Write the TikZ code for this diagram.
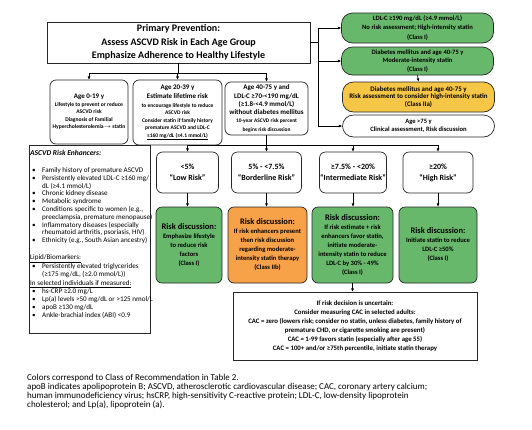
\documentclass[tikz,border=0pt]{standalone}
\usepackage{fontspec}
\setmainfont{Carlito}
\usetikzlibrary{arrows.meta,positioning}
\definecolor{corI}{RGB}{104,184,108}
\definecolor{corIIa}{RGB}{246,198,70}
\definecolor{corIIb}{RGB}{247,161,72}
\newcommand{\fs}[2]{\fontsize{#1}{#2}\selectfont}

\begin{document}
\begin{tikzpicture}[x=1pt,y=-1pt,>={Latex[length=3.2pt,width=3pt]},
 font=\bfseries\fs{6.6}{9},
 box/.style={draw=black!85,line width=0.7pt,align=center,inner sep=0pt},
 agebox/.style={box,rounded corners=6pt},
 riskbox/.style={box,rounded corners=6pt,minimum height=41pt,font=\bfseries\fs{8}{11}},
 actbox/.style={box,rounded corners=6pt,minimum height=76pt,fill=corI},
 pill/.style={box,rounded corners=11pt,minimum width=152pt},
 flow/.style={->,line width=0.7pt,black}]
\useasboundingbox[fill=white] (0,0) rectangle (532,429);
% top of the chart
\node[box,minimum width=263pt,minimum height=41pt,font=\bfseries\fs{10}{13.5}] (prim) at (178.5,42.5)
  {Primary Prevention:\\Assess ASCVD Risk in Each Age Group\\Emphasize Adherence to Healthy Lifestyle};
\node[agebox,minimum width=78pt,minimum height=64pt,font=\bfseries\fs{5.6}{7.5}] (age0) at (89,112)
  {{\fs{7}{7.5}Age 0-19 y}\\Lifestyle to prevent or reduce\\ASCVD risk\\Diagnosis of Familial\\Hypercholesterolemia$\rightarrow$ statin};
\node[agebox,minimum width=89pt,minimum height=65pt,font=\bfseries\fs{5.5}{7.5}] (age20) at (177.5,112.5)
  {{\fs{7}{7.5}Age 20-39 y}\\[2pt]{\fs{7}{7.5}Estimate lifetime risk}\\[1pt]to encourage lifestyle to reduce\\ASCVD risk\\Consider statin if family history\\premature ASCVD and LDL-C\\\underline{≥160 mg/dL (≥4.1 mmol/L)}};
\node[agebox,minimum width=83pt,minimum height=53pt,font=\bfseries\fs{7}{8.3}] (age40) at (266.5,108.5)
  {Age 40-75 y and\\LDL-C ≥70-<190 mg/dL\\(≥1.8-<4.9 mmol/L)\\without diabetes mellitus\\{\fs{5.4}{8}10-year ASCVD risk percent}\\{\fs{5.4}{8}begins risk discussion}};
% right column
\node[pill,fill=corI,minimum height=30pt,font=\bfseries\fs{6.6}{9.5}] (ldl) at (417.5,28)
  {LDL-C ≥190 mg/dL (≥4.9 mmol/L)\\No risk assessment; High-intensity statin\\(Class I)};
\node[pill,fill=corI,minimum height=28pt,font=\bfseries\fs{6.6}{8.5}] (dm) at (417.5,61)
  {Diabetes mellitus and age 40-75 y\\Moderate-intensity statin\\(Class I)};
\node[pill,fill=corIIa,minimum height=30pt,font=\bfseries\fs{6.9}{7.8}] (yel) at (418.5,97)
  {Diabetes mellitus and age 40-75 y\\Risk assessment to consider high-intensity statin\\(Class IIa)};
\node[pill,minimum height=22pt,font=\bfseries\fs{6.6}{8}] (old) at (418.5,126)
  {Age >75 y\\Clinical assessment, Risk discussion};
% risk groups
\node[riskbox,minimum width=62pt] (low) at (187.5,172.5) {<5\%\\“Low Risk”};
\node[riskbox,minimum width=70pt] (border) at (266.5,172.5) {5\% - <7.5\%\\“Borderline Risk”};
\node[riskbox,minimum width=67pt] (inter) at (353,172.5) {≥7.5\% - <20\%\\“Intermediate Risk”};
\node[riskbox,minimum width=70pt] (high) at (438,172.5) {≥20\%\\“High Risk”};
\node[actbox,minimum width=66pt] (actlow) at (189,245)
  {{\fs{8.5}{9}Risk discussion:}\\Emphasize lifestyle\\to reduce risk\\factors\\(Class I)};
\node[actbox,minimum width=79pt,fill=corIIb] (actborder) at (267.5,245)
  {{\fs{8.5}{9}Risk discussion:}\\If risk enhancers present\\then risk discussion\\regarding moderate-\\intensity statin therapy\\(Class IIb)};
\node[actbox,minimum width=81pt] (actinter) at (352.5,245)
  {{\fs{8.5}{9}Risk discussion:}\\If risk estimate + risk\\enhancers favor statin,\\initiate moderate-\\intensity statin to reduce\\LDL-C by 30\% - 49\%\\(Class I)};
\node[actbox,minimum width=78pt] (acthigh) at (438,245)
  {{\fs{8.5}{9}Risk discussion:}\\Initiate statin to reduce\\LDL-C ≥50\%\\(Class I)};
\node[box,minimum width=244pt,minimum height=68pt,font=\bfseries\fs{6.8}{9}] (cac) at (355,326)
  {If risk decision is uncertain:\\Consider measuring CAC in selected adults:\\CAC = zero (lowers risk; consider no statin, unless diabetes, family history of\\premature CHD, or cigarette smoking are present)\\CAC = 1-99 favors statin (especially after age 55)\\CAC = 100+ and/or ≥75th percentile, initiate statin therapy};
% enhancers
\node[draw=black!85,line width=0.6pt,minimum width=121pt,minimum height=188pt,anchor=north west] (enh) at (29,145) {};
\node[anchor=north west,inner sep=0pt,font=\fs{7.1}{7.8},align=left] (enhtxt) at (30,150)
  {\begin{tabular}{@{}p{12pt}@{}l@{}}
  \multicolumn{2}{@{}l@{}}{\bfseries\itshape\fs{7.5}{7.8}ASCVD Risk Enhancers:}\\[9pt]
  \hspace{2pt}\textbullet & Family history of premature ASCVD\\
  \hspace{2pt}\textbullet & Persistently elevated LDL-C ≥160 mg/\\
  & dL (≥4.1 mmol/L)\\
  \hspace{2pt}\textbullet & Chronic kidney disease\\
  \hspace{2pt}\textbullet & Metabolic syndrome\\
  \hspace{2pt}\textbullet & Conditions specific to women (e.g.,\\
  & preeclampsia, premature menopause)\\
  \hspace{2pt}\textbullet & Inflammatory diseases (especially\\
  & rheumatoid arthritis, psoriasis, HIV)\\
  \hspace{2pt}\textbullet & Ethnicity (e.g., South Asian ancestry)\\[9pt]
  \multicolumn{2}{@{}l@{}}{\underline{Lipid/Biomarkers:}}\\[1pt]
  \hspace{2pt}\textbullet & Persistently elevated triglycerides\\
  & (≥175 mg/dL, (≥2.0 mmol/L))\\[2pt]
  \multicolumn{2}{@{}l@{}}{\underline{In selected individuals if measured:}}\\
  \hspace{2pt}\textbullet & hs-CRP ≥2.0 mg/L\\
  \hspace{2pt}\textbullet & Lp(a) levels >50 mg/dL or >125 nmol/L\\
  \hspace{2pt}\textbullet & apoB ≥130 mg/dL\\
  \hspace{2pt}\textbullet & Ankle-brachial index (ABI) <0.9
  \end{tabular}};
% caption
\node[anchor=north west,inner sep=0pt,align=left,font=\mdseries\fs{9}{9}] (capt) at (27,374)
  {Colors correspond to Class of Recommendation in Table 2.\\
  apoB indicates apolipoprotein B; ASCVD, atherosclerotic cardiovascular disease; CAC, coronary artery calcium;\\
  human immunodeficiency virus; hsCRP, high-sensitivity C-reactive protein; LDL-C, low-density lipoprotein\\
  cholesterol; and Lp(a), lipoprotein (a).};
% connectors
\coordinate (agebus) at (0,73);
\coordinate (rbus) at (318,0);
\coordinate (riskbus) at (0,145);
\foreach \b in {age0,age20,age40}
  \draw[flow] (prim.south) -- (prim.south |- agebus) -| (\b.north);
\foreach \b in {ldl,dm,old}
  \draw[flow] (prim.east) -- (prim.east -| rbus) |- (\b.west);
\draw[flow] (dm.south) -- (yel.north);
\foreach \b in {low,border,inter,high}
  \draw[flow] (age40.south) -- (age40.south |- riskbus) -| (\b.north);
\foreach \a/\b in {low/actlow,border/actborder,inter/actinter,high/acthigh}
  \draw[flow] (\a.south) -- (\a.south |- \b.north);
\draw[flow] (actinter.south) -- (actinter.south |- cac.north);
\end{tikzpicture}
\end{document}
